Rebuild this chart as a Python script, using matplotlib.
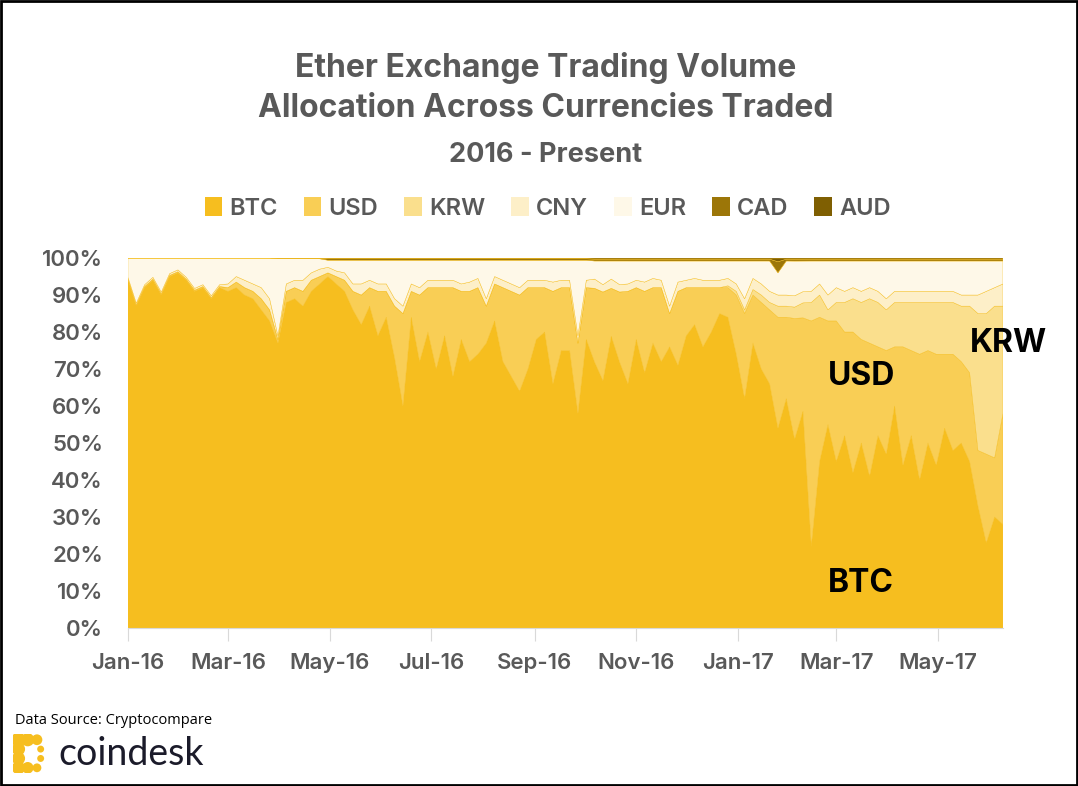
import numpy as np
import pandas as pd
import matplotlib
matplotlib.use("Agg")
import matplotlib.pyplot as plt
import matplotlib.dates as mdates
from matplotlib.patches import Patch, Rectangle

# share of ether trading volume per currency (%), sampled every 5 days from 2016-01-01
dates = pd.date_range("2016-01-01", periods=106, freq="5D")

btc = [94, 87, 92, 94, 90, 95, 96, 94, 91, 92, 89, 92,
       91, 92, 90, 89, 86, 83, 77, 88, 89, 87, 91, 93,
       95, 93, 91, 86, 82, 87, 79, 84, 73, 60, 84, 72,
       80, 70, 79, 68, 78, 72, 74, 77, 83, 72, 68, 64,
       70, 78, 80, 66, 75, 75, 58, 78, 72, 67, 79, 72,
       66, 78, 69, 77, 72, 76, 71, 79, 82, 76, 80, 85,
       84, 74, 62, 77, 70, 66, 54, 62, 50, 58, 22, 45,
       55, 45, 52, 42, 50, 41, 52, 47, 60, 44, 52, 40,
       50, 44, 54, 48, 50, 45, 33, 23, 30, 28]
usd = [0.3] * 12 + \
      [1, 1.5, 2, 2, 3, 3, 1, 3, 3, 4, 3, 2,
       1, 2, 3, 5, 8, 5, 12, 7, 14, 25, 7, 18,
       12, 22, 13, 24, 13, 19, 18, 10, 10, 20, 23, 26,
       22, 14, 12, 25, 17, 17, 19, 14, 20, 24, 13, 19,
       25, 14, 22, 15, 20, 9, 20, 13, 10, 16, 12, 7,
       8, 16, 23, 13, 18, 20, 30, 22, 32, 25, 61, 39,
       28, 38, 28, 38, 28, 36, 24, 28, 16, 32, 23, 34,
       25, 30, 20, 26, 22, 24, 15, 24, 16, 30]
krw = [0] * 72 + \
      [0.5, 1, 1, 1.5, 2, 2, 3, 3, 3, 4, 5, 6,
       3, 5, 8, 9, 10, 12, 12, 11, 12, 12, 13, 14,
       13, 14, 14, 14, 15, 18, 37, 38, 41, 29]
cny = [0.5] * 12 + \
      [1, 1.5, 2, 2, 3, 3, 1, 2, 2, 3, 2, 2,
       1.5, 1.5, 2, 2, 3, 2, 2, 2, 2, 2, 2, 2,
       2, 2, 2, 2, 2, 2.5, 2.5, 2, 2, 2, 2, 2,
       2, 2, 2, 2.5, 2, 2, 2, 2, 2.5, 2, 2.5, 2,
       2, 2, 2.5, 2.5, 2, 2, 2.5, 2, 2.5, 2, 2, 2,
       2, 2, 3, 3, 3, 3, 3, 3, 3, 3, 3, 3,
       4, 4, 3, 3, 3, 3, 3, 3, 3, 3, 3, 3,
       3, 3, 3, 3, 3, 3, 5, 6, 5, 6]
eur = [5.2, 12.2, 7.2, 5.2, 9.2, 4.2, 3.2, 5.2, 8.2, 7.2, 10.2, 7.2,
       7, 5, 6, 7, 8, 11, 20.8, 6.8, 5.8, 5.8, 3.8, 2.8,
       1.9, 2.9, 3.4, 6.4, 6.4, 5.4, 6.4, 6.4, 10.4, 12.4, 6.4, 7.4,
       5.4, 5.4, 5.4, 5.4, 6.4, 5.9, 4.9, 10.4, 4.4, 5.4, 6.4, 7.4,
       5.4, 5.4, 5.4, 5.9, 5.4, 5.4, 20.4, 5.4, 4.9, 6.4, 4.9, 6.4,
       6.2, 5.2, 5.7, 4.7, 5.2, 12.2, 5.7, 5.2, 4.7, 5.2, 5.2, 5.2,
       4.7, 6.2, 10.2, 4.7, 6.2, 8.2, 6, 9.2, 9.2, 8.2, 8.2, 6.2,
       9.2, 7.2, 8.2, 7.2, 8.2, 7.2, 8.2, 10.2, 8.2, 8.2, 8.2, 8.2,
       8.2, 8.2, 8.2, 8.2, 9.2, 9.2, 9.2, 8.2, 7.2, 6.2]
cad = [0] * 18 + [0.2] * 6 + [0.4] * 32 + [0.5] * 22 + [3.0] + [0.5] * 27
aud = [0] * 24 + [0.2] * 32 + [0.3] * 22 + [1.0] + [0.3] * 27

names = ["BTC", "USD", "KRW", "CNY", "EUR", "CAD", "AUD"]
colors = ["#F6BE1F", "#F9CE55", "#FADF8D", "#FDEFC8", "#FEF8E8", "#9C7608", "#7F5F02"]

shares = np.array([btc, usd, krw, cny, eur, cad, aud], dtype=float)
shares = shares / shares.sum(axis=0) * 100

gray = "#595959"
plt.rcParams["font.family"] = ["Inter", "DejaVu Sans"]

fig = plt.figure(figsize=(10.78, 7.86), dpi=100)
ax = fig.add_axes([0.1187, 0.201, 0.8117, 0.4707])

ax.stackplot(dates, shares, colors=colors, linewidth=0.3, edgecolors=colors)

ax.set_xlim(dates[0], dates[-1])
ax.set_ylim(0, 100)
ax.set_yticks(range(0, 101, 10))
ax.set_yticklabels([f"{v}%" for v in range(0, 101, 10)])
ax.xaxis.set_major_locator(mdates.MonthLocator(bymonth=[1, 3, 5, 7, 9, 11]))
ax.xaxis.set_major_formatter(mdates.DateFormatter("%b-%y"))

for s in ["top", "right", "left"]:
    ax.spines[s].set_visible(False)
ax.spines["bottom"].set_color("#D9D9D9")
ax.tick_params(axis="y", length=0, pad=18, labelsize=16, labelcolor=gray)
ax.tick_params(axis="x", length=9, color="#D9D9D9", pad=9, labelsize=16, labelcolor=gray)
for lab in ax.get_xticklabels() + ax.get_yticklabels():
    lab.set_fontweight("semibold")

# labels on the areas
ax.text(dates[84], 68, "USD", fontsize=23, fontweight="bold", color="black", va="center")
ax.text(dates[101], 77, "KRW", fontsize=23, fontweight="bold", color="black", va="center")
ax.text(dates[84], 12, "BTC", fontsize=23, fontweight="bold", color="black", va="center")

# titles
fig.text(0.506, 0.913, "Ether Exchange Trading Volume", ha="center", va="center",
         fontsize=23, fontweight="bold", color=gray)
fig.text(0.506, 0.862, "Allocation Across Currencies Traded", ha="center", va="center",
         fontsize=23, fontweight="bold", color=gray)
fig.text(0.506, 0.803, "2016 - Present", ha="center", va="center",
         fontsize=19.5, fontweight="bold", color=gray)

handles = [Patch(facecolor=c, edgecolor="none", label=n) for n, c in zip(names, colors)]
leg = fig.legend(handles=handles, loc="center", bbox_to_anchor=(0.508, 0.735), ncol=7,
                 frameon=False, fontsize=17, handlelength=0.75, handleheight=0.85,
                 handletextpad=0.3, columnspacing=1.1)
for t in leg.get_texts():
    t.set_color(gray)
    t.set_fontweight("semibold")

# source and logo
fig.text(0.014, 0.083, "Data Source: Cryptocompare", fontsize=10.5, color="black",
         family=["Open Sans", "DejaVu Sans"], va="center")
fig.text(0.054, 0.041, "coindesk", fontsize=27, color="#1B1B2A", va="center",
         family=["Lato", "DejaVu Sans"])
lax = fig.add_axes([0.012, 0.016, 0.036, 0.05])
lax.set_xlim(-0.6, 3.6)
lax.set_ylim(-0.6, 3.6)
lax.axis("off")
dot_x = [0, 1, 2, 0, 0, 0, 1, 2, 2.4, 2.4]
dot_y = [3, 3, 3, 2, 1, 0, 0, 0, 2, 1]
dot_s = [110, 90, 60, 90, 90, 90, 70, 40, 25, 25]
lax.scatter(dot_x, dot_y, s=dot_s, color="#F6BE1F", linewidths=0)
lax.plot([0, 1], [3, 3], color="#F6BE1F", lw=6, solid_capstyle="round")
lax.plot([0, 0], [3, 0], color="#F6BE1F", lw=5, solid_capstyle="round")

fig.patches.append(Rectangle((0.001, 0.001), 0.998, 0.998, transform=fig.transFigure,
                             fill=False, edgecolor="black", linewidth=2))

fig.savefig("out.png", dpi=100)
